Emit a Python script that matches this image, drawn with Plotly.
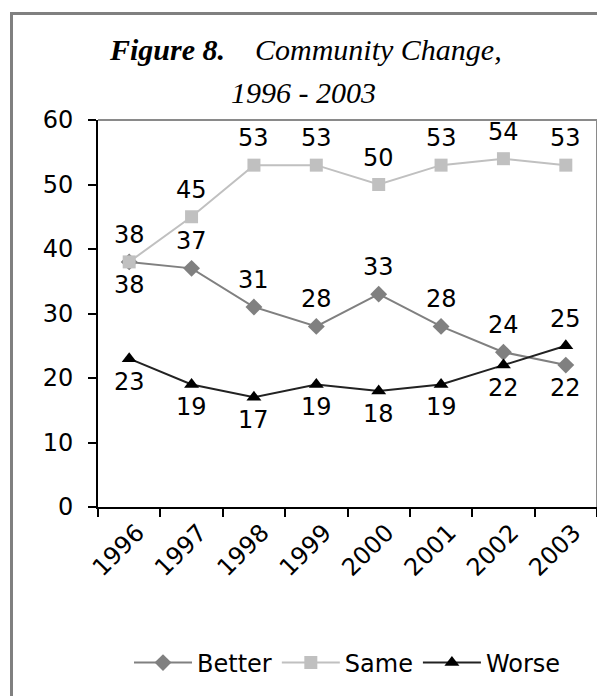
import plotly.graph_objects as go

years = ["1996", "1997", "1998", "1999", "2000", "2001", "2002", "2003"]
better = [38, 37, 31, 28, 33, 28, 24, 22]
same = [38, 45, 53, 53, 50, 53, 54, 53]
worse = [23, 19, 17, 19, 18, 19, 22, 25]

# label placement: +1 above the point, -1 below
better_side = [-1, 1, 1, 1, 1, 1, 1, -1]
same_side = [1] * 8
worse_side = [-1] * 7 + [1]

FONT = "DejaVu Sans"
fs = 24

fig = go.Figure()
fig.add_trace(go.Scatter(
    x=years, y=better, name="Better", mode="lines+markers",
    line=dict(color="#808080", width=2),
    marker=dict(symbol="diamond", size=13, color="#808080"),
))
fig.add_trace(go.Scatter(
    x=years, y=same, name="Same", mode="lines+markers",
    line=dict(color="#C0C0C0", width=2),
    marker=dict(symbol="square", size=13, color="#C0C0C0"),
))
fig.add_trace(go.Scatter(
    x=years, y=worse, name="Worse", mode="lines+markers",
    line=dict(color="#222222", width=2),
    marker=dict(symbol="triangle-up", size=13, color="black"),
))

# the page body adds an 8px offset; figure coords = page coords - 8
OFF = 8
W, H = 605 - OFF, 696 - OFF
L, T = 98 - OFF, 120 - OFF
R, B = W - (597 - OFF), H - (507 - OFF)
pw, ph = W - L - R, H - T - B


def px(x):
    return (x - OFF - L) / pw


def py(y):
    return (H - B - (y - OFF)) / ph


annotations = []
for vals, sides in ((better, better_side), (same, same_side), (worse, worse_side)):
    for i, (v, s) in enumerate(zip(vals, sides)):
        annotations.append(dict(
            x=i, y=v, xref="x", yref="y", text=str(v), showarrow=False,
            xanchor="center", yanchor="middle",
            yshift=27 if s > 0 else -23,
            font=dict(family=FONT, size=fs, color="black")))

annotations += [
    dict(xref="paper", yref="paper", x=px(305), y=py(61), yanchor="bottom",
         xanchor="center", showarrow=False,
         text="<b><i>Figure 8.</i></b>\u00a0\u00a0\u00a0\u00a0<i>Community Change,</i>",
         font=dict(family="Liberation Serif", size=30, color="black"),
         yshift=-7),
    dict(xref="paper", yref="paper", x=px(303), y=py(104), yanchor="bottom",
         xanchor="center", showarrow=False,
         text="<i>1996 - 2003</i>",
         font=dict(family="Liberation Serif", size=30, color="black"),
         yshift=-7),
]

shapes = [
    dict(type="line", xref="paper", yref="paper", x0=0, x1=1, y0=1, y1=1,
         line=dict(color="#8a8a8a", width=2)),
    dict(type="line", xref="paper", yref="paper", x0=1, x1=1, y0=0, y1=1,
         line=dict(color="#8a8a8a", width=2)),
    dict(type="rect", xref="paper", yref="paper",
         x0=px(11.5), x1=px(640), y0=py(740), y1=py(13.5),
         line=dict(color="#808080", width=3)),
]

fig.update_layout(
    width=W, height=H,
    margin=dict(l=L, r=R, t=T, b=B, pad=0),
    paper_bgcolor="white", plot_bgcolor="white",
    font=dict(family=FONT, size=fs, color="black"),
    showlegend=True,
    legend=dict(orientation="h", x=0.5, xanchor="center", y=py(663),
                yanchor="middle", font=dict(family=FONT, size=fs),
                itemwidth=58),
    shapes=shapes,
    annotations=annotations,
    xaxis=dict(type="category", range=[-0.5, 7.5], showline=True,
               linecolor="black", linewidth=2, ticks="outside",
               tickson="boundaries", ticklen=8, tickwidth=2, tickcolor="black",
               tickangle=-45, showgrid=False, zeroline=False, automargin=False,
               ticklabelshift=8,
               tickfont=dict(family=FONT, size=fs)),
    yaxis=dict(range=[0, 60], dtick=10, showline=True, linecolor="black",
               linewidth=2, ticks="outside", ticklen=8, tickwidth=2,
               tickcolor="black", showgrid=False, zeroline=False,
               automargin=False, ticklabelstandoff=10,
               tickfont=dict(family=FONT, size=fs)),
)

fig.write_html("out.html")
